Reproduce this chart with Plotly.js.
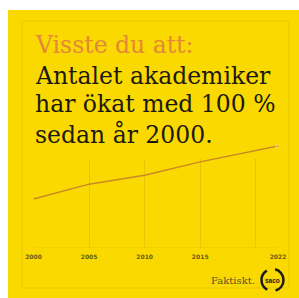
<!DOCTYPE html>
<html>
<head>
<meta charset="utf-8">
<script src="https://cdn.plot.ly/plotly-3.0.1.min.js"></script>
<style>html,body{margin:0;padding:0;background:#fff;}#chart{width:299px;height:298px;}</style>
</head>
<body>
<div id="chart"></div>
<script>
// ---- data ----
const years = [2000, 2005, 2010, 2015, 2022];
const academicsIndex = [100, 128, 145, 170, 200];
const gridYears = [2000, 2005, 2010, 2015, 2020];
const tickYears = [2000, 2005, 2010, 2015, 2022];
const tickLabels = ['2000', '2005', '2010', '2015', '2022'];
const kicker = 'Visste du att:';
const headlineLines = ['Antalet akademiker', 'har ökat med 100 %', 'sedan år 2000.'];
const footerText = 'Faktiskt.';
const logoText = 'saco';

// ---- layout helpers (pixel -> paper) ----
const W = 299, H = 298;
const px = x => x / W;
const py = y => 1 - y / H;

const YELLOW = '#fad900';
const GRID = '#e8c600';
const LINE = '#c98a24';
const ORANGE = '#e3883a';
const SERIF = 'DejaVu Serif';

const xDomain = [px(33.5), px(278)];
const xRange = [2000, 2022];

const traces = [
  { x: years, y: academicsIndex, xaxis: 'x', yaxis: 'y', mode: 'none', hoverinfo: 'skip', showlegend: false },
  { x: years, y: academicsIndex, xaxis: 'x2', yaxis: 'y2', mode: 'lines+markers', showlegend: false,
    line: { color: LINE, width: 1.5 },
    marker: { color: LINE, size: years.map((v, i) => i === years.length - 1 ? 4 : 0) } }
];

const headlineCenters = [75.5, 104.5, 134.8];
const annotations = [
  { text: kicker, x: px(33), y: py(44.6), xanchor: 'left', yanchor: 'middle', showarrow: false,
    xref: 'paper', yref: 'paper', font: { family: SERIF, size: 23.5, color: ORANGE } }
].concat(headlineLines.map((t, i) => ({
  text: t, x: px(33), y: py(headlineCenters[i]), xanchor: 'left', yanchor: 'middle', showarrow: false,
  xref: 'paper', yref: 'paper', font: { family: SERIF, size: 23.5, color: '#1b1a12' }
}))).concat([
  { text: footerText, x: px(209), y: py(280), xanchor: 'left', yanchor: 'middle', showarrow: false,
    xref: 'paper', yref: 'paper', font: { family: SERIF, size: 10, color: '#5a532c' } },
  { text: logoText, x: px(272.5), y: py(280), xanchor: 'center', yanchor: 'middle', showarrow: false,
    xref: 'paper', yref: 'paper', font: { family: 'Liberation Sans', size: 6.5, weight: 700, color: '#1a1a1a' } }
]);

const layout = {
  width: W, height: H,
  margin: { l: 0, r: 0, t: 0, b: 0 },
  paper_bgcolor: '#ffffff',
  plot_bgcolor: 'rgba(0,0,0,0)',
  showlegend: false,
  xaxis: { domain: xDomain, range: xRange, anchor: 'y', tickmode: 'array', tickvals: gridYears,
    showticklabels: false, showgrid: true, gridcolor: GRID, gridwidth: 1, zeroline: false,
    showline: true, linecolor: '#efcf00', linewidth: 1, ticks: '' },
  yaxis: { domain: [py(247), py(159)], range: [0, 1], anchor: 'x', visible: false, showgrid: false, zeroline: false },
  xaxis2: { domain: xDomain, range: xRange, anchor: 'y2', tickmode: 'array', tickvals: tickYears, ticktext: tickLabels,
    showgrid: false, zeroline: false, showline: false, ticks: '', ticklabelstandoff: 5,
    tickfont: { family: 'DejaVu Sans', size: 6, weight: 700, color: '#6a5a10' } },
  yaxis2: { domain: [py(247), py(140)], range: [9.4, 211.3], anchor: 'x2', visible: false, showgrid: false, zeroline: false },
  shapes: [
    { type: 'rect', xref: 'paper', yref: 'paper', x0: px(8), x1: 1, y0: 0, y1: py(10), fillcolor: YELLOW, line: { width: 0 }, layer: 'below' },
    { type: 'rect', xref: 'paper', yref: 'paper', x0: px(22), x1: px(289), y0: py(288), y1: py(21), line: { color: 'rgba(200,160,0,0.3)', width: 1 }, layer: 'below' },
    { type: 'circle', xref: 'paper', yref: 'paper', x0: px(261.5), x1: px(283.5), y0: py(291), y1: py(269),
      line: { color: '#1a1a1a', width: 2.5, dash: '14px,8.6px,23px,8.6px,15px,10px' } }
  ],
  annotations: annotations
};

Plotly.newPlot('chart', traces, layout, { staticPlot: true, displayModeBar: false });
</script>
</body>
</html>
